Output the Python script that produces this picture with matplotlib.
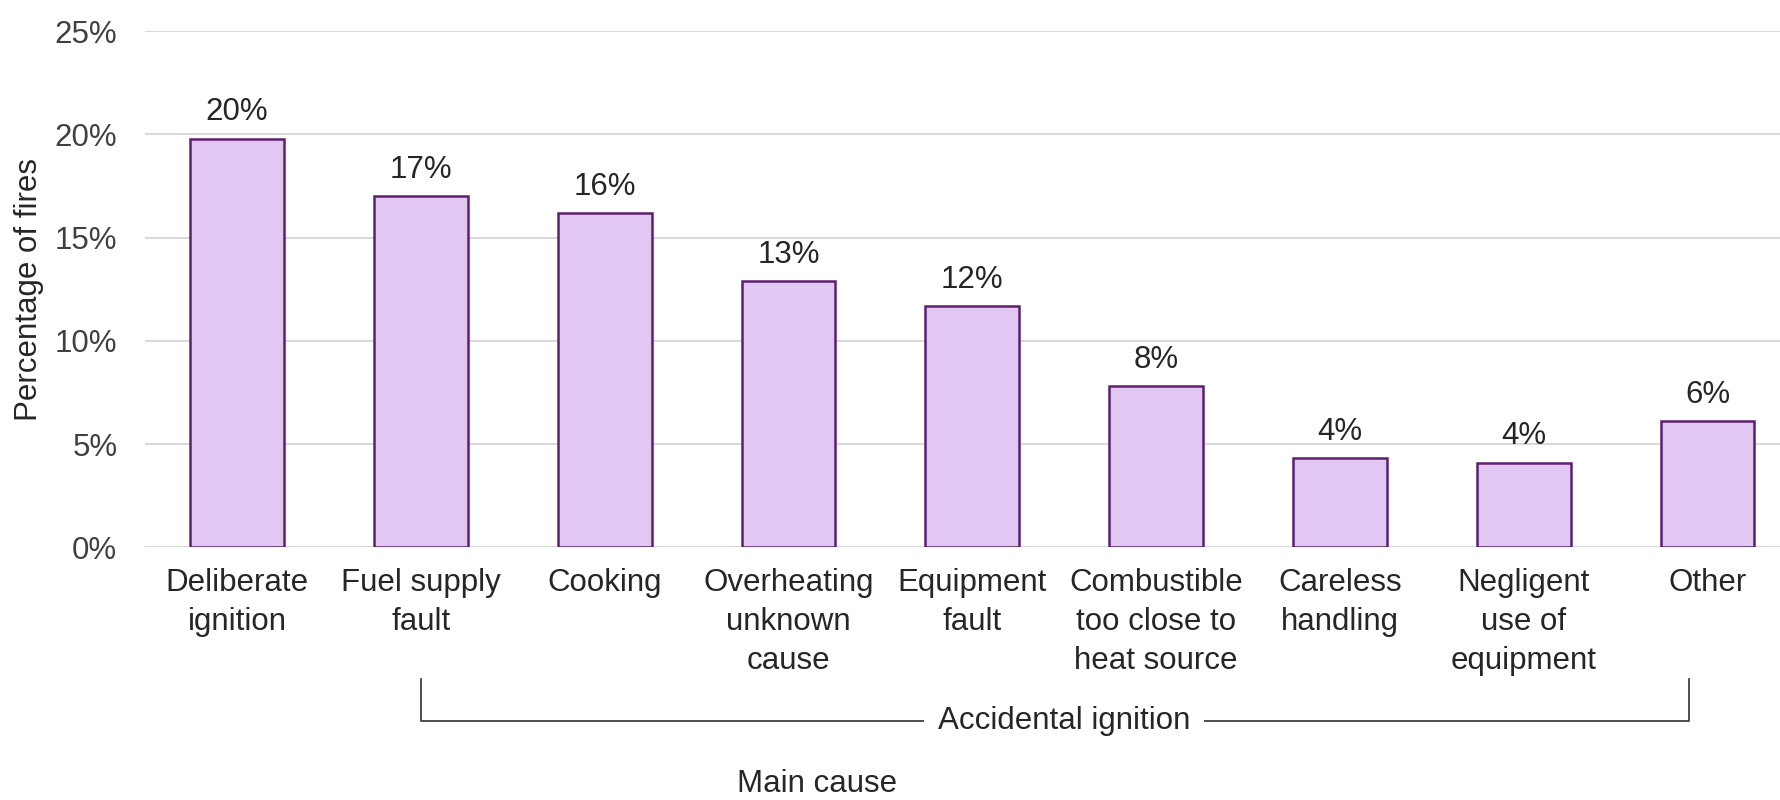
import numpy as np
import matplotlib.pyplot as plt
import matplotlib.transforms as mtransforms

plt.rcParams['font.family'] = ['Liberation Sans', 'DejaVu Sans']

causes = ['Deliberate\nignition', 'Fuel supply\nfault', 'Cooking',
          'Overheating\nunknown\ncause', 'Equipment\nfault',
          'Combustible\ntoo close to\nheat source', 'Careless\nhandling',
          'Negligent\nuse of\nequipment', 'Other']
pct = [19.8, 17.0, 16.2, 12.9, 11.7, 7.8, 4.3, 4.1, 6.1]
labels = ['20%', '17%', '16%', '13%', '12%', '8%', '4%', '4%', '6%']
yticks = [0, 5, 10, 15, 20, 25]

txt = '#262626'
fs = 22.5

fig = plt.figure(figsize=(17.81, 8), dpi=100)
ax = fig.add_axes([0.0815, 0.316, 0.9185, 0.645])

x = np.arange(len(causes))
bars = ax.bar(x, pct, width=0.51, color='#E2C7F2', edgecolor='#5E1F6E',
              linewidth=1.8, zorder=3)

for xi, v, lab in zip(x, pct, labels):
    ax.annotate(lab, (xi, v), xytext=(0, 8), textcoords='offset points',
                ha='center', va='bottom', fontsize=fs, color=txt)

ax.set_xlim(-0.5, 8.4)
ax.set_ylim(0, 25)
ax.set_yticks(yticks)
ax.set_yticklabels([f'{t}%' for t in yticks], fontsize=fs, color='#404040')
ax.set_xticks(x)
ax.set_xticklabels(causes, fontsize=fs, color=txt, linespacing=1.4)
ax.tick_params(axis='both', length=0)
ax.tick_params(axis='x', pad=15)
ax.tick_params(axis='y', pad=20)
ax.grid(axis='y', color='#D9D9D9', linewidth=1.5, zorder=0)
for s in ax.spines.values():
    s.set_visible(False)

ax.set_ylabel('Percentage of fires', fontsize=fs, color=txt, labelpad=8)

# bracket for accidental ignition
tr = mtransforms.blended_transform_factory(ax.transData, ax.transAxes)
bx0, bx1 = 1, 7.9
ytop, ybot = -0.256, -0.337
ax.plot([bx0, bx0, bx1, bx1], [ytop, ybot, ybot, ytop], transform=tr,
        color='#404040', linewidth=1.3, clip_on=False)
ax.text((bx0 + bx1) / 2 + 0.05, ybot, 'Accidental ignition', transform=tr,
        ha='center', va='center', fontsize=fs, color=txt,
        bbox=dict(facecolor='white', edgecolor='none', pad=10))

fig.text(0.459, 0.02, 'Main cause', ha='center', va='center',
         fontsize=fs, color=txt)

fig.savefig('out.png', dpi=100, facecolor='white')
